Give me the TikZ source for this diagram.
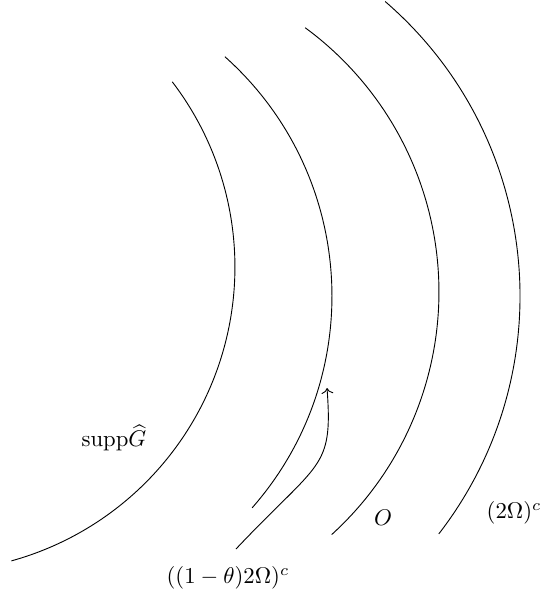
\documentclass[tikz,border=0pt]{standalone}
\usepackage{tkz-euclide}
\usepackage{amsmath}

\begin{document}
\begin{tikzpicture}
            \useasboundingbox (0,0) rectangle (8.375,9.241);
            \tkzDefPoints{-1.084/5.108/C_g, 0.170/4.659/C_t, 1.718/4.721/C_o, 2.028/4.659/C_w}

            % support of G hat
            \tkzDefShiftPoint[C_g](-74.5:4.721){g_a}
            \tkzDefShiftPoint[C_g](37.4:1){g_b}
            \tkzDrawArc[line width=0.4pt,black](C_g,g_a)(g_b)

            % ((1-theta)2Omega)^c
            \tkzDefShiftPoint[C_t](-41.3:4.969){t_a}
            \tkzDefShiftPoint[C_t](48.2:1){t_b}
            \tkzDrawArc[line width=0.4pt,black](C_t,t_a)(t_b)

            % O
            \tkzDefShiftPoint[C_o](-47.7:5.077){o_a}
            \tkzDefShiftPoint[C_o](53.7:1){o_b}
            \tkzDrawArc[line width=0.4pt,black](C_o,o_a)(o_b)

            % (2Omega)^c
            \tkzDefShiftPoint[C_w](-37.7:6.022){w_a}
            \tkzDefShiftPoint[C_w](49.2:1){w_b}
            \tkzDrawArc[line width=0.4pt,black](C_w,w_a)(w_b)

            %%%%%%%%%%%%%%%%%%%%
            \tkzDefPoints{3.653/0.743/s_a, 4.954/2.121/s_b, 5.155/1.966/s_c, 5.062/3.235/s_d}
            \draw[->] (s_a) .. controls (s_b) and (s_c) .. (s_d);

            \node (supp) at (1.765,2.461) {$\mathrm{supp}\widehat{G}$};
            \node (theta) at (3.529,0.294) {$((1-\theta)2\Omega)^c$};
            \node (open) at (5.929,1.223) {$O$};
            \node (twoomega) at (7.957,1.300) {$(2\Omega)^c$};
        \end{tikzpicture}
\end{document}
